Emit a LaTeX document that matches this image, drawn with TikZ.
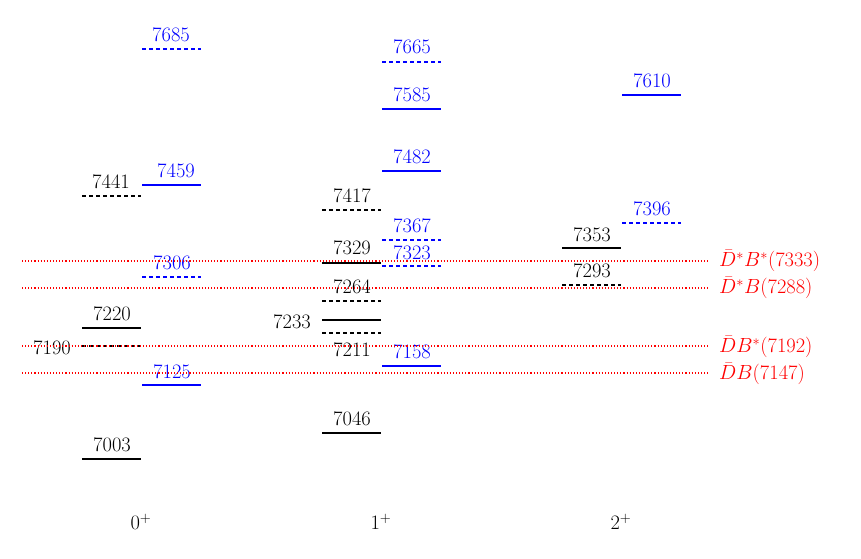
\RequirePackage{fix-cm}
\documentclass[tikz,border=0pt]{standalone}
\begin{document}
\begin{tikzpicture}[x=1pt,y=-1pt,
  lv/.style={line width=1.4pt},
  bk/.style={lv,black},
  bl/.style={lv,blue},
  dsh/.style={dash pattern=on 4pt off 3pt},
  lab/.style={font=\fontsize{20.5}{23}\selectfont,inner sep=0pt},
  thr/.style={red,dotted,line width=1.1pt}]
\useasboundingbox (0,0) rectangle (861,558);
% 0+
\draw[bl,dsh] (142,49) -- (201,49); \node[lab,blue] (t1) at (171,35) {7685};
\draw[bk,dsh] (82,196) -- (141,196); \node[lab] (t2) at (111,182) {7441};
\draw[bl] (142,185) -- (201,185); \node[lab,blue] (t3) at (176,171) {7459};
\draw[bl,dsh] (142,277) -- (201,277); \node[lab,blue] (t4) at (172,263) {7306};
\draw[bk] (82,328) -- (141,328); \node[lab] (t5) at (112,314) {7220};
\draw[bk,dsh] (82,346) -- (141,346); \node[lab] (t6) at (52,348) {7190};
\draw[bl] (142,385) -- (201,385); \node[lab,blue] (t7) at (172,372) {7125};
\draw[bk] (82,459) -- (141,459); \node[lab] (t8) at (112,445) {7003};
% 1+
\draw[bl,dsh] (382,62) -- (441,62); \node[lab,blue] (u1) at (412,47) {7665};
\draw[bl] (382,109) -- (441,109); \node[lab,blue] (u2) at (412,95) {7585};
\draw[bl] (382,171) -- (441,171); \node[lab,blue] (u3) at (412,157) {7482};
\draw[bk,dsh] (322,210) -- (381,210); \node[lab] (u4) at (352,196) {7417};
\draw[bl,dsh] (382,240) -- (441,240); \node[lab,blue] (u5) at (412,226) {7367};
\draw[bk] (322,263) -- (381,263); \node[lab] (u6) at (352,248) {7329};
\draw[bl,dsh] (382,266) -- (441,266); \node[lab,blue] (u7) at (412,253) {7323};
\draw[bk,dsh] (322,301) -- (381,301); \node[lab] (u8) at (352,287) {7264};
\draw[bk] (322,320) -- (381,320); \node[lab] (u9) at (292,322) {7233};
\draw[bk,dsh] (322,333) -- (381,333); \node[lab] (u10) at (352,350) {7211};
\draw[bl] (382,366) -- (441,366); \node[lab,blue] (u11) at (412,352) {7158};
\draw[bk] (322,433) -- (381,433); \node[lab] (u12) at (352,419) {7046};
% 2+
\draw[bl] (622,95) -- (681,95); \node[lab,blue] (v1) at (652,81) {7610};
\draw[bl,dsh] (622,223) -- (681,223); \node[lab,blue] (v2) at (652,209) {7396};
\draw[bk] (562,248) -- (621,248); \node[lab] (v3) at (592,235) {7353};
\draw[bk,dsh] (562,285) -- (621,285); \node[lab] (v4) at (592,271) {7293};
% thresholds
\draw[thr] (22,261) -- (710,261); \node[lab,red,anchor=west] (w1) at (719,261) {$\bar D^*B^*(7333)$};
\draw[thr] (22,288) -- (710,288); \node[lab,red,anchor=west] (w2) at (719,288) {$\bar D^*B(7288)$};
\draw[thr] (22,346) -- (710,346); \node[lab,red,anchor=west] (w3) at (719,347) {$\bar D B^*(7192)$};
\draw[thr] (22,373) -- (710,373); \node[lab,red,anchor=west] (w4) at (719,374) {$\bar D B(7147)$};
% axis labels
\node[lab] (x0) at (141,522) {$0^+$};
\node[lab] (x1) at (381,522) {$1^+$};
\node[lab] (x2) at (621,522) {$2^+$};
\end{tikzpicture}
\end{document}
